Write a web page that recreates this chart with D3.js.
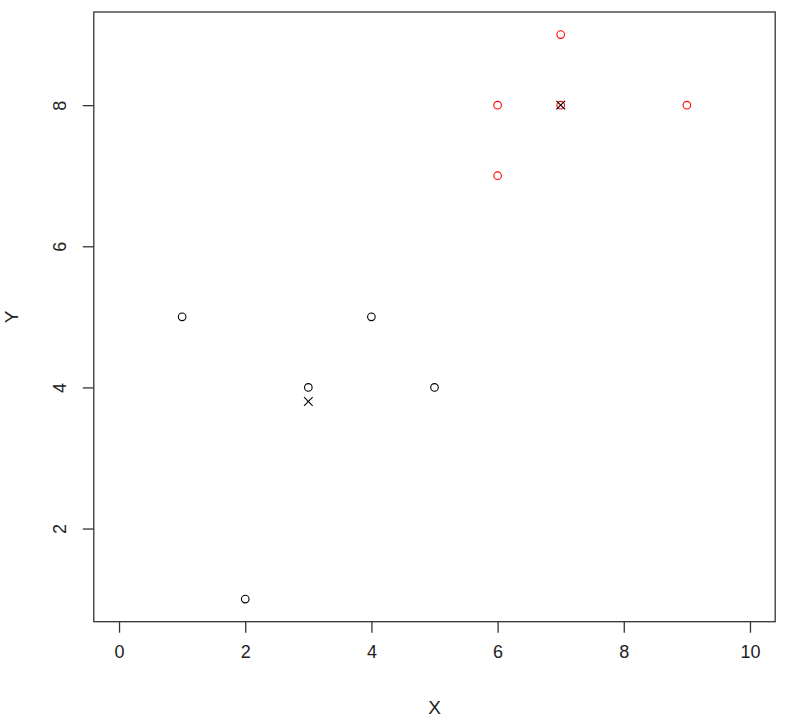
<!DOCTYPE html>
<html><head><meta charset="utf-8">
<script src="https://cdn.jsdelivr.net/npm/d3@7"></script>
<style>body{margin:0;background:#fff}svg{display:block}text{font-family:"Liberation Sans",Arial,sans-serif}</style>
</head><body>
<script>
const xs = [1, 2, 3, 4, 5, 6, 6, 7, 7, 9];
const ys = [5, 1, 4, 5, 4, 8, 7, 9, 8, 8];
const cluster = [0, 0, 0, 0, 0, 1, 1, 1, 1, 1];
const clusterColors = ["#000000", "#ff0000"];
const centerX = [3, 7];
const centerY = [3.8, 8];
const xTicks = [0, 2, 4, 6, 8, 10];
const yTicks = [2, 4, 6, 8];

const W = 785, H = 721;
const L = 93.8, R = 775.2, T = 12, B = 621.7;
const svg = d3.select("body").append("svg").attr("width", W).attr("height", H);
const x = d3.scaleLinear().domain([-0.4, 10.4]).range([L, R]);
const y = d3.scaleLinear().domain([0.68, 9.32]).range([B, T]);
const axisCol = "#333";

svg.append("rect").attr("x", L).attr("y", T).attr("width", R - L).attr("height", B - T)
  .attr("fill", "none").attr("stroke", axisCol).attr("stroke-width", 1.3);

const xa = svg.append("g").attr("transform", `translate(0,${B})`)
  .call(d3.axisBottom(x).tickValues(xTicks).tickSize(11).tickPadding(13).tickFormat(d3.format("d")));
xa.select(".domain").remove();
xa.selectAll("line").attr("stroke", axisCol).attr("stroke-width", 1.3);
xa.selectAll("text").attr("font-size", 18).attr("fill", "#222");

const ya = svg.append("g").attr("transform", `translate(${L},0)`)
  .call(d3.axisLeft(y).tickValues(yTicks).tickSize(11).tickFormat(d3.format("d")));
ya.select(".domain").remove();
ya.selectAll("line").attr("stroke", axisCol).attr("stroke-width", 1.3);
ya.selectAll("text").attr("font-size", 18).attr("fill", "#222")
  .attr("x", 0).attr("dy", null).attr("text-anchor", "middle")
  .attr("transform", "translate(-34,0) rotate(-90)").attr("dominant-baseline", "central");

svg.append("text").attr("x", (L + R) / 2).attr("y", 714).attr("text-anchor", "middle")
  .attr("font-size", 19).attr("fill", "#222").text("X");
svg.append("text").attr("transform", `translate(11,${(T + B) / 2}) rotate(-90)`)
  .attr("text-anchor", "middle").attr("dominant-baseline", "central")
  .attr("font-size", 19).attr("fill", "#222").text("Y");

svg.append("g").selectAll("circle").data(xs).join("circle")
  .attr("cx", d => x(d)).attr("cy", (d, i) => y(ys[i])).attr("r", 3.8)
  .attr("fill", "none").attr("stroke", (d, i) => clusterColors[cluster[i]]).attr("stroke-width", 1.1);

const s = 4.3;
const cg = svg.append("g");
centerX.forEach((cx, i) => {
  const px = x(cx), py = y(centerY[i]);
  cg.append("line").attr("x1", px - s).attr("y1", py - s).attr("x2", px + s).attr("y2", py + s)
    .attr("stroke", "#000").attr("stroke-width", 1.1);
  cg.append("line").attr("x1", px - s).attr("y1", py + s).attr("x2", px + s).attr("y2", py - s)
    .attr("stroke", "#000").attr("stroke-width", 1.1);
});
</script>
</body></html>
